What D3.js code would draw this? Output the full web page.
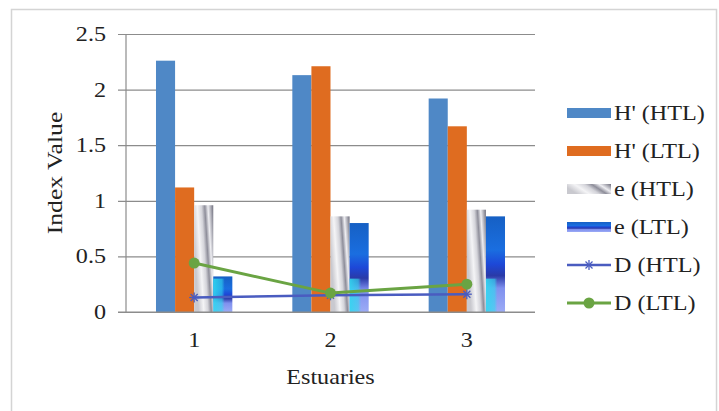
<!DOCTYPE html>
<html><head><meta charset="utf-8">
<script src="https://cdn.jsdelivr.net/npm/d3@7"></script>
<style>html,body{margin:0;padding:0;background:#fff;}svg{display:block;}</style>
</head><body>
<script>
const categories = ["1", "2", "3"];
const seriesNames = ["H' (HTL)", "H' (LTL)", "e (HTL)", "e (LTL)", "D (HTL)", "D (LTL)"];
const hHTL = [2.26, 2.13, 1.92];
const hLTL = [1.12, 2.21, 1.67];
const eHTL = [0.96, 0.86, 0.92];
const eLTL = [0.32, 0.80, 0.86];
const dHTL = [0.13, 0.15, 0.16];
const dLTL = [0.44, 0.17, 0.25];
const yTicks = [0, 0.5, 1, 1.5, 2, 2.5];
const yTickLabels = ["0", "0.5", "1", "1.5", "2", "2.5"];
const xTitle = "Estuaries";
const yTitle = "Index Value";

const W = 719, H = 411;
const FONT = "'Liberation Serif','Times New Roman',serif";
const SX = 1.15;

const svg = d3.select("body").append("svg").attr("width", W).attr("height", H);
const defs = svg.append("defs");

const gGray = defs.append("linearGradient").attr("id", "gGray")
  .attr("x1", "0").attr("y1", "0.35").attr("x2", "1").attr("y2", "0");
[["0", "#c9c9cf"], ["0.25", "#f4f4f6"], ["0.45", "#d4d4da"], ["0.6", "#8e8e9a"], ["0.75", "#eeeeF2"], ["1", "#6e6e7c"]]
  .forEach(s => gGray.append("stop").attr("offset", s[0]).attr("stop-color", s[1]));

const gBlue = defs.append("linearGradient").attr("id", "gBlue")
  .attr("x1", "0").attr("y1", "0").attr("x2", "0").attr("y2", "1");
[["0", "#1660c4"], ["0.35", "#1a6ee0"], ["0.5", "#1d48d8"], ["0.62", "#2a3aa8"], ["0.75", "#7f90ee"], ["1", "#9cabf6"]]
  .forEach(s => gBlue.append("stop").attr("offset", s[0]).attr("stop-color", s[1]));

const gCyan = defs.append("linearGradient").attr("id", "gCyan")
  .attr("x1", "0").attr("y1", "0").attr("x2", "1").attr("y2", "0");
[["0", "#30d8f0", 0.9], ["0.45", "#30d8f0", 0.6], ["0.6", "#30d8f0", 0]]
  .forEach(s => gCyan.append("stop").attr("offset", s[0]).attr("stop-color", s[1]).attr("stop-opacity", s[2]));

// chart border
svg.append("rect").attr("x", 11.5).attr("y", 9.5).attr("width", 705).attr("height", 420)
  .attr("fill", "#fff").attr("stroke", "#d4d4d4").attr("stroke-width", 1.5);

const plot = {left: 126, right: 535, top: 34, bottom: 312};
const x = d3.scaleBand().domain(categories).range([plot.left, plot.right]).paddingInner(0.44).paddingOuter(0.22);
const xc = d3.scaleBand().domain(categories).range([plot.left, plot.right]);
const y = d3.scaleLinear().domain([0, 2.5]).range([plot.bottom, plot.top]);
const sub = d3.scaleBand().domain([0, 1, 2, 3]).range([0, x.bandwidth()]);

// gridlines
const yAxis = d3.axisLeft(y).tickValues(yTicks).tickSize(-(plot.right - plot.left)).tickFormat("");
const ga = svg.append("g").attr("transform", `translate(${plot.left},0)`).call(yAxis);
ga.select(".domain").remove();
ga.selectAll("line").attr("stroke", "#8c8c8c").attr("stroke-width", 1.2).attr("x1", -8);
// vertical axis line
svg.append("line").attr("x1", plot.left).attr("x2", plot.left).attr("y1", y(2.5)).attr("y2", y(0))
  .attr("stroke", "#8c8c8c").attr("stroke-width", 1.2);

// y tick labels
svg.append("g").selectAll("text").data(yTicks).join("text")
  .attr("transform", d => `translate(106,${y(d) + 7}) scale(${SX},1)`)
  .attr("text-anchor", "end").attr("font-family", FONT).attr("font-size", 21).attr("fill", "#222")
  .text((d, i) => yTickLabels[i]);

// x tick labels
svg.append("g").selectAll("text").data(categories).join("text")
  .attr("transform", d => `translate(${xc(d) + xc.bandwidth() / 2},347) scale(${SX},1)`)
  .attr("text-anchor", "middle").attr("font-family", FONT).attr("font-size", 21).attr("fill", "#222")
  .text(d => d);

// axis titles
svg.append("text").attr("transform", `translate(${(plot.left + plot.right) / 2},384) scale(${SX},1)`)
  .attr("text-anchor", "middle").attr("font-family", FONT).attr("font-size", 21).attr("fill", "#222").text(xTitle);
svg.append("text").attr("transform", `translate(62,173) rotate(-90) scale(1.22,1)`)
  .attr("text-anchor", "middle").attr("font-family", FONT).attr("font-size", 21).attr("fill", "#222").text(yTitle);

// bars
const barSeries = [
  {vals: hHTL, fill: "#4f88c6"},
  {vals: hLTL, fill: "#df6c20"},
  {vals: eHTL, fill: "url(#gGray)"},
  {vals: eLTL, fill: "url(#gBlue)"}
];
barSeries.forEach((s, si) => {
  svg.append("g").selectAll("rect").data(categories).join("rect")
    .attr("x", (c) => x(c) + sub(si))
    .attr("width", sub.bandwidth())
    .attr("y", (c, i) => y(s.vals[i]))
    .attr("height", (c, i) => y(0) - y(s.vals[i]))
    .attr("fill", s.fill);
  if (si === 3) {
    svg.append("g").selectAll("rect").data(categories).join("rect")
      .attr("x", (c) => x(c) + sub(si))
      .attr("width", sub.bandwidth())
      .attr("y", (c, i) => y(Math.min(s.vals[i], 0.3)))
      .attr("height", (c, i) => y(0) - y(Math.min(s.vals[i], 0.3)))
      .attr("fill", "url(#gCyan)");
  }
});
// x axis baseline
svg.append("line").attr("x1", plot.left - 8).attr("x2", plot.right).attr("y1", y(0)).attr("y2", y(0))
  .attr("stroke", "#8c8c8c").attr("stroke-width", 1.2);

// lines
const cx = c => xc(c) + xc.bandwidth() / 2;
const line = vals => d3.line().x((c) => cx(c)).y((c, i) => y(vals[i]))(categories);
svg.append("path").attr("d", line(dHTL)).attr("fill", "none").attr("stroke", "#4a5cc0").attr("stroke-width", 2.5);
const star = (g, px, py, col) => {
  const r = 5;
  [[-r, 0, r, 0], [-r * 0.7, -r * 0.7, r * 0.7, r * 0.7], [-r * 0.7, r * 0.7, r * 0.7, -r * 0.7], [0, -r, 0, r]].forEach(l =>
    g.append("line").attr("x1", px + l[0]).attr("y1", py + l[1]).attr("x2", px + l[2]).attr("y2", py + l[3])
      .attr("stroke", col).attr("stroke-width", 1.3));
};
const gStar = svg.append("g");
categories.forEach((c, i) => star(gStar, cx(c), y(dHTL[i]), "#4a5cc0"));

svg.append("path").attr("d", line(dLTL)).attr("fill", "none").attr("stroke", "#6aa443").attr("stroke-width", 3);
svg.append("g").selectAll("circle").data(categories).join("circle")
  .attr("cx", c => cx(c)).attr("cy", (c, i) => y(dLTL[i])).attr("r", 5.5).attr("fill", "#6aa443");

// legend
const leg = svg.append("g");
const legY = d3.scalePoint().domain(seriesNames).range([113, 303]);
const legFills = ["#4f88c6", "#df6c20", "url(#gGray)", "url(#gBlue)"];
seriesNames.forEach((n, i) => {
  const yy = legY(n);
  if (i < 4) {
    leg.append("rect").attr("x", 567).attr("y", yy - 5).attr("width", 44).attr("height", 10).attr("fill", legFills[i]);
  } else if (i === 4) {
    leg.append("line").attr("x1", 567).attr("x2", 611).attr("y1", yy).attr("y2", yy).attr("stroke", "#4a5cc0").attr("stroke-width", 2.5);
    star(leg, 589, yy, "#4a5cc0");
  } else {
    leg.append("line").attr("x1", 567).attr("x2", 611).attr("y1", yy).attr("y2", yy).attr("stroke", "#6aa443").attr("stroke-width", 3);
    leg.append("circle").attr("cx", 589).attr("cy", yy).attr("r", 5.5).attr("fill", "#6aa443");
  }
  leg.append("text").attr("transform", `translate(614,${yy + 7}) scale(${SX},1)`)
    .attr("font-family", FONT).attr("font-size", 21).attr("fill", "#222").text(n);
});
</script>
</body></html>
